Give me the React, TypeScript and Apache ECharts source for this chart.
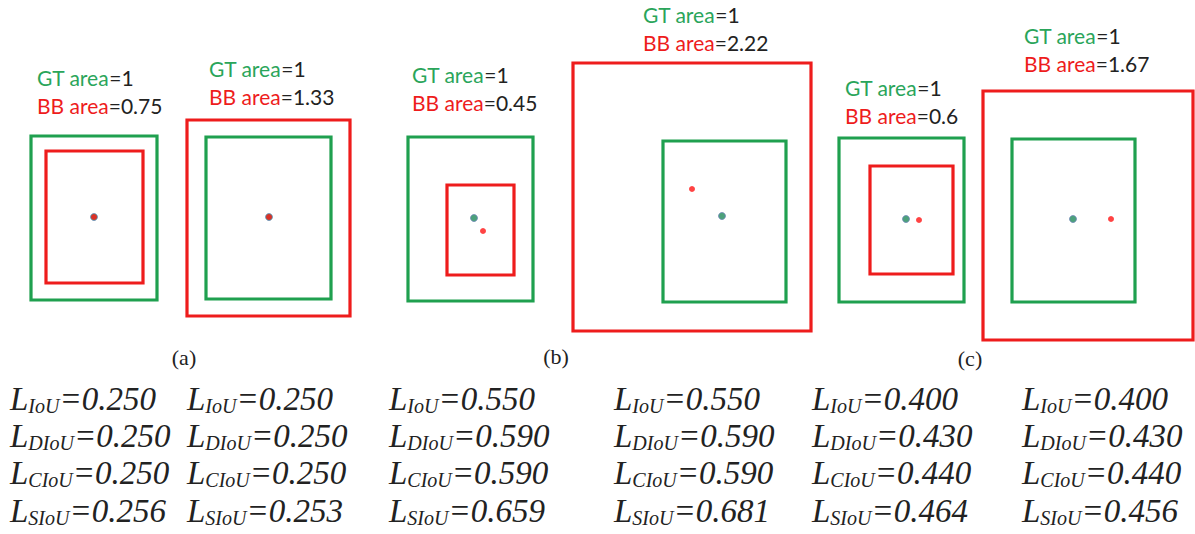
import React, { useEffect, useRef } from "react";
import * as echarts from "echarts";

const W = 1195;
const H = 534;

// Ground-truth (green) and predicted (red) boxes: [x1, y1, x2, y2] in figure units
const gtBoxes = [
  [31, 136, 157, 300],
  [206, 137, 331, 299],
  [408, 137, 533, 301],
  [663, 141, 786, 302],
  [839, 138, 964, 302],
  [1012, 139, 1135, 302],
];
const bbBoxes = [
  [46, 151, 143, 283],
  [187, 120, 350, 316],
  [447, 185, 514, 275],
  [573, 63, 811, 331],
  [870, 166, 953, 274],
  [983, 91, 1193, 340],
];
// Box centre points
const gtCenters = [
  [94, 217],
  [269, 217],
  [474, 218],
  [722, 216],
  [906, 219],
  [1073, 219],
];
const bbCenters = [
  [94, 217],
  [269, 217],
  [483, 231],
  [692, 189],
  [919, 220],
  [1111, 219],
];

const gtAreas = ["1", "1", "1", "1", "1", "1"];
const bbAreas = ["0.75", "1.33", "0.45", "2.22", "0.6", "1.67"];

const lossNames = ["IoU", "DIoU", "CIoU", "SIoU"];
const lossIoU = [0.25, 0.25, 0.55, 0.55, 0.4, 0.4];
const lossDIoU = [0.25, 0.25, 0.59, 0.59, 0.43, 0.43];
const lossCIoU = [0.25, 0.25, 0.59, 0.59, 0.44, 0.44];
const lossSIoU = [0.256, 0.253, 0.659, 0.681, 0.464, 0.456];

const panelLabels = ["(a)", "(b)", "(c)"];

// Layout of the annotations
const areaLabelPos = [
  [37, 77],
  [209, 68],
  [412, 74],
  [643, 14],
  [845, 87],
  [1024, 35],
];
const areaLineGap = 28;
const lossColumnX = [10, 187, 389, 614, 812, 1022];
const lossRowY = [399, 436, 473, 511];
const panelLabelPos = [
  [184, 357],
  [556, 356],
  [970, 358],
];

const GREEN = "#1fa04f";
const GREEN_TEXT = "#2aa55a";
const RED = "#ee1c1c";
const INK = "#222222";
const SANS = "Lato, 'Open Sans', sans-serif";
const SERIF = "'Liberation Serif', 'Times New Roman', serif";

function boxSeries(name: string, boxes: number[][], color: string) {
  return {
    type: "custom",
    name,
    coordinateSystem: "cartesian2d",
    encode: { x: [0, 2], y: [1, 3] },
    data: boxes,
    silent: true,
    renderItem: (_params: any, api: any) => {
      const p1 = api.coord([api.value(0), api.value(1)]);
      const p2 = api.coord([api.value(2), api.value(3)]);
      return {
        type: "rect",
        shape: {
          x: Math.min(p1[0], p2[0]),
          y: Math.min(p1[1], p2[1]),
          width: Math.abs(p2[0] - p1[0]),
          height: Math.abs(p2[1] - p1[1]),
        },
        style: { fill: "none", stroke: color, lineWidth: 3.2 },
      };
    },
  };
}

export default function App() {
  const ref = useRef<HTMLDivElement>(null);

  useEffect(() => {
    if (!ref.current) return;
    const chart = echarts.init(ref.current, undefined, { renderer: "svg" });

    const lossSets = [lossIoU, lossDIoU, lossCIoU, lossSIoU];
    const graphics: any[] = [];

    // Area annotations above each pair of boxes
    areaLabelPos.forEach(([x, y], i) => {
      graphics.push({
        type: "text",
        x,
        y,
        silent: true,
        style: {
          text: `{g|GT area}{k|=${gtAreas[i]}}`,
          verticalAlign: "middle",
          align: "left",
          rich: {
            g: { fontFamily: SANS, fontSize: 21, fill: GREEN_TEXT },
            k: { fontFamily: SANS, fontSize: 21, fill: INK },
          },
        },
      });
      graphics.push({
        type: "text",
        x,
        y: y + areaLineGap,
        silent: true,
        style: {
          text: `{r|BB area}{k|=${bbAreas[i]}}`,
          verticalAlign: "middle",
          align: "left",
          rich: {
            r: { fontFamily: SANS, fontSize: 21, fill: RED },
            k: { fontFamily: SANS, fontSize: 21, fill: INK },
          },
        },
      });
    });

    // Panel captions
    panelLabels.forEach((t, i) => {
      graphics.push({
        type: "text",
        x: panelLabelPos[i][0],
        y: panelLabelPos[i][1],
        silent: true,
        style: {
          text: t,
          fontFamily: SERIF,
          fontSize: 22,
          fill: INK,
          align: "center",
          verticalAlign: "middle",
        },
      });
    });

    // Loss values under each configuration, with the loss name as a subscript
    lossColumnX.forEach((x, c) => {
      lossSets.forEach((set, r) => {
        graphics.push({
          type: "text",
          x,
          y: lossRowY[r],
          silent: true,
          style: {
            text: `{L|L}{s|${lossNames[r]}}{v|=${set[c].toFixed(3)}}`,
            align: "left",
            verticalAlign: "middle",
            rich: {
              L: {
                fontFamily: SERIF,
                fontStyle: "italic",
                fontSize: 33,
                lineHeight: 36,
                fill: INK,
              },
              s: {
                fontFamily: SERIF,
                fontStyle: "italic",
                fontSize: 20,
                lineHeight: 20,
                padding: [14, 0, 0, 0],
                fill: INK,
              },
              v: {
                fontFamily: SERIF,
                fontStyle: "italic",
                fontSize: 33,
                lineHeight: 36,
                fill: INK,
              },
            },
          },
        });
      });
    });

    chart.setOption({
      animation: false,
      backgroundColor: "#ffffff",
      grid: { left: 0, right: 0, top: 0, bottom: 0 },
      xAxis: { type: "value", min: 0, max: W, show: false },
      yAxis: { type: "value", min: 0, max: H, inverse: true, show: false },
      series: [
        boxSeries("GT", gtBoxes, GREEN),
        boxSeries("BB", bbBoxes, RED),
        {
          type: "scatter",
          name: "GT centre",
          data: gtCenters,
          symbol: "circle",
          symbolSize: 7,
          silent: true,
          itemStyle: { color: "#1f8a5a", borderColor: "#7088b8", borderWidth: 1 },
          z: 3,
        },
        {
          type: "scatter",
          name: "BB centre",
          data: bbCenters,
          symbol: "circle",
          symbolSize: 6,
          silent: true,
          itemStyle: { color: "#ff1414" },
          z: 4,
        },
      ],
      graphic: graphics,
    });

    return () => chart.dispose();
  }, []);

  return (
    <div
      ref={ref}
      style={{
        position: "fixed",
        left: 0,
        top: 0,
        width: W,
        height: H,
        background: "#ffffff",
      }}
    />
  );
}
